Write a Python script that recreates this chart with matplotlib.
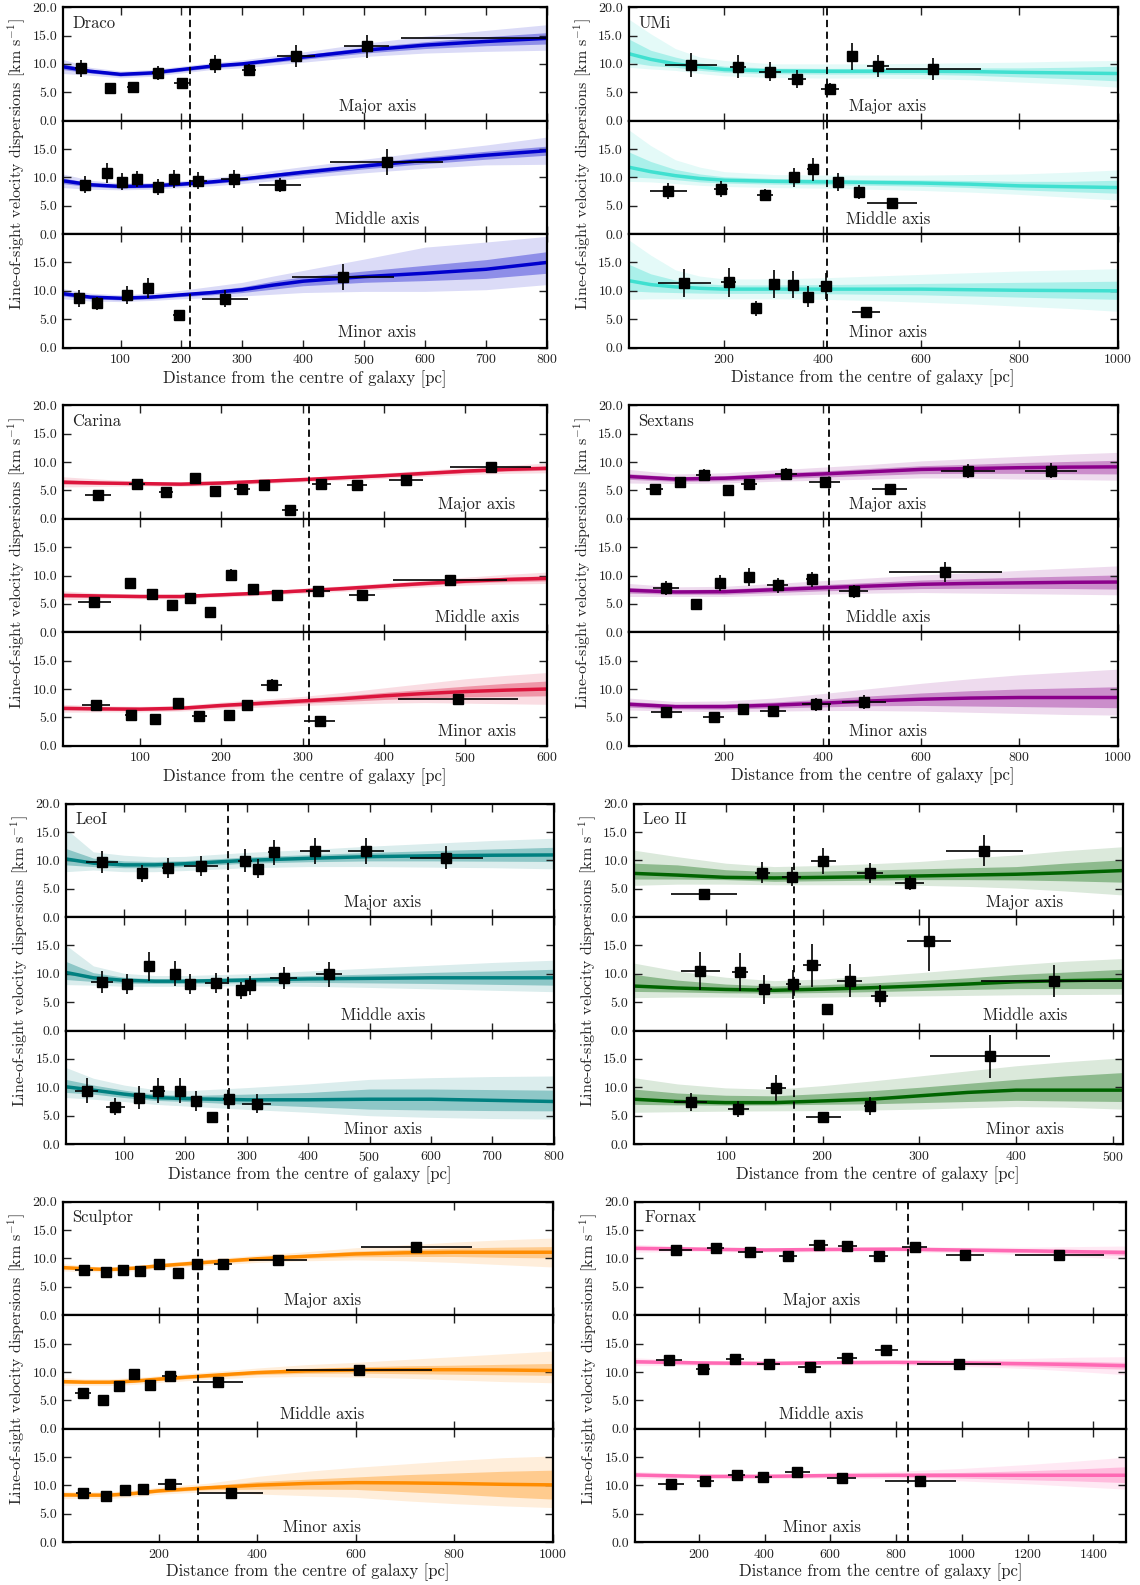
import matplotlib
matplotlib.use('Agg')
import matplotlib.pyplot as plt
from matplotlib.ticker import FormatStrFormatter

plt.rcParams['font.family'] = 'serif'
plt.rcParams['font.serif'] = ['cmr10']
plt.rcParams['mathtext.fontset'] = 'cm'
plt.rcParams['axes.formatter.use_mathtext'] = True
plt.rcParams['axes.unicode_minus'] = False

# ---- measured dispersions: (R [pc], sigma, xerr, yerr) ----
draco_major = [(35, 9.2, 10, 1.5), (82, 5.7, 5, 0.7), (121, 6.0, 10, 0.6), (161, 8.4, 9, 1.3),
               (201, 6.7, 13, 0.7), (255, 10.0, 10, 1.6), (311, 8.9, 11, 1.1), (388, 11.4, 31, 1.9),
               (504, 13.1, 37, 2.0), (840, 14.5, 280, 2.0)]
draco_middle = [(41, 8.7, 7, 1.5), (78, 10.8, 5, 1.8), (103, 9.2, 9, 1.5), (127, 9.7, 8, 1.4),
                (162, 8.3, 7, 1.4), (188, 9.7, 6, 1.6), (227, 9.4, 15, 1.5), (287, 9.7, 22, 1.6),
                (362, 8.7, 35, 1.2), (537, 12.7, 93, 2.3)]
draco_minor = [(32, 8.7, 7, 1.5), (62, 7.8, 9, 1.2), (110, 9.3, 8, 1.6), (145, 10.5, 7, 1.8),
               (196, 5.7, 10, 0.7), (271, 8.6, 38, 1.5), (465, 12.5, 84, 2.3)]

umi_major = [(132, 9.8, 53, 2.1), (227, 9.5, 16, 2.0), (293, 8.6, 22, 1.7), (348, 7.3, 18, 1.6),
             (415, 5.6, 18, 1.0), (459, 11.3, 5, 2.4), (513, 9.6, 22, 2.0), (625, 9.1, 97, 1.9)]
umi_middle = [(86, 7.6, 37, 1.4), (193, 7.9, 15, 1.4), (282, 6.9, 16, 1.1), (342, 10.0, 7, 1.7),
              (380, 11.4, 13, 2.1), (431, 9.2, 10, 1.6), (474, 7.4, 11, 1.3), (541, 5.4, 51, 0.9)]
umi_minor = [(118, 11.4, 54, 2.5), (209, 11.5, 15, 2.5), (264, 6.9, 7, 1.3), (301, 11.2, 9, 2.4),
             (339, 11.1, 9, 2.4), (371, 9.0, 5, 1.9), (406, 10.8, 13, 2.3), (488, 6.2, 29, 1.0)]

carina_major = [(48, 4.2, 16, 0.5), (96, 6.2, 10, 0.6), (132, 4.8, 9, 0.5), (168, 7.2, 4, 0.6),
                (192, 4.9, 4, 0.5), (225, 5.3, 10, 0.5), (253, 5.9, 7, 0.6), (284, 1.6, 10, 0.4),
                (323, 6.2, 12, 0.6), (367, 5.9, 12, 0.5), (427, 6.8, 21, 0.6), (531, 9.1, 50, 0.8)]
carina_middle = [(44, 5.3, 20, 0.5), (88, 8.7, 3, 0.9), (115, 6.7, 5, 0.7), (139, 4.8, 4, 0.5),
                 (162, 6.0, 4, 0.6), (186, 3.5, 4, 0.4), (212, 10.1, 3, 1.0), (239, 7.7, 5, 0.8),
                 (268, 6.6, 5, 0.6), (319, 7.3, 15, 0.6), (373, 6.6, 16, 0.6), (481, 9.2, 70, 0.9)]
carina_minor = [(46, 7.2, 17, 0.7), (89, 5.5, 7, 0.5), (118, 4.7, 5, 0.5), (147, 7.6, 6, 0.8),
                (173, 5.2, 9, 0.5), (210, 5.4, 4, 0.5), (232, 7.2, 6, 0.8), (262, 10.7, 13, 1.0),
                (321, 4.4, 19, 0.4), (491, 8.3, 74, 0.9)]

sextans_major = [(58, 5.3, 18, 0.6), (110, 6.5, 9, 0.8), (158, 7.7, 15, 1.0), (208, 5.0, 9, 0.5),
                 (250, 6.2, 16, 0.8), (325, 7.9, 22, 1.0), (404, 6.4, 31, 0.9), (536, 5.2, 35, 0.6),
                 (695, 8.4, 55, 1.3), (865, 8.5, 53, 1.3)]
sextans_middle = [(81, 7.8, 27, 1.2), (143, 4.9, 12, 0.5), (190, 8.7, 9, 1.4), (250, 9.8, 7, 1.6),
                  (308, 8.3, 22, 1.3), (378, 9.3, 13, 1.4), (463, 7.2, 29, 1.2), (649, 10.6, 115, 1.8)]
sextans_minor = [(82, 6.0, 31, 0.9), (178, 5.0, 22, 0.5), (238, 6.4, 9, 0.9), (299, 6.1, 26, 0.8),
                 (387, 7.3, 30, 1.1), (484, 7.7, 45, 1.2)]

leoi_major = [(64, 9.7, 26, 2.0), (130, 7.7, 6, 1.5), (171, 8.7, 9, 1.8), (225, 9.0, 28, 1.8),
              (297, 9.95, 11, 2.0), (319, 8.5, 7, 1.7), (344, 11.4, 9, 2.2), (411, 11.7, 25, 2.3),
              (494, 11.65, 30, 2.3), (625, 10.5, 60, 2.1)]
leoi_middle = [(64, 8.6, 18, 1.9), (105, 8.2, 9, 1.7), (141, 11.3, 3, 2.5), (183, 10.0, 6, 2.2),
               (207, 8.2, 7, 1.7), (250, 8.4, 18, 1.8), (290, 7.1, 5, 1.5), (306, 8.0, 7, 1.7),
               (360, 9.25, 22, 2.0), (434, 9.95, 21, 2.2)]
leoi_minor = [(39, 9.4, 19, 2.2), (86, 6.55, 15, 1.5), (124, 8.2, 5, 2.0), (155, 9.4, 12, 2.2),
              (192, 9.4, 7, 2.2), (217, 7.6, 7, 1.8), (244, 4.7, 3, 1.0), (271, 8.0, 9, 1.9),
              (316, 7.1, 24, 1.7)]

leoii_major = [(78, 4.0, 34, 0.5), (138, 7.85, 8, 1.8), (168, 7.1, 10, 1.7), (201, 9.95, 13, 2.3),
               (249, 7.8, 13, 1.8), (290, 6.0, 15, 1.3), (367, 11.7, 40, 2.7)]
leoii_middle = [(74, 10.5, 20, 3.4), (115, 10.3, 8, 3.3), (140, 7.25, 8, 2.5), (170, 8.15, 8, 2.5),
                (189, 11.5, 9, 3.8), (205, 3.8, 2, 0.6), (228, 8.8, 13, 2.9), (259, 6.1, 9, 1.9),
                (310, 15.7, 23, 5.2), (439, 8.7, 75, 2.8)]
leoii_minor = [(64, 7.4, 17, 1.6), (113, 6.15, 11, 1.4), (152, 9.95, 10, 2.3), (201, 4.7, 18, 1.0),
               (249, 6.7, 6, 1.6), (373, 15.45, 62, 3.8)]

sculptor_major = [(48, 8.05, 18, 0.5), (93, 7.7, 9, 0.5), (127, 8.05, 9, 0.5), (162, 7.8, 11, 0.5),
                  (200, 9.1, 7, 0.5), (239, 7.5, 9, 0.4), (278, 9.05, 11, 0.5), (331, 9.1, 18, 0.5),
                  (443, 9.8, 59, 0.6), (723, 12.05, 112, 0.9)]
sculptor_middle = [(46, 6.35, 16, 0.5), (86, 5.1, 3, 0.4), (120, 7.6, 9, 0.5), (150, 9.7, 4, 0.6),
                   (182, 7.7, 9, 0.5), (222, 9.35, 15, 0.6), (321, 8.2, 51, 0.5), (607, 10.35, 148, 0.7)]
sculptor_minor = [(47, 8.75, 15, 0.6), (93, 8.1, 11, 0.5), (131, 9.2, 9, 0.6), (169, 9.35, 11, 0.7),
                  (223, 10.25, 24, 0.7), (346, 8.75, 65, 0.7)]

fornax_major = [(129, 11.5, 50, 0.5), (251, 11.85, 25, 0.5), (357, 11.1, 39, 0.5), (471, 10.5, 28, 0.4),
                (564, 12.3, 28, 0.5), (652, 12.15, 28, 0.5), (747, 10.5, 28, 0.4), (856, 12.0, 39, 0.5),
                (1009, 10.65, 57, 0.4), (1297, 10.65, 135, 0.4)]
fornax_middle = [(110, 12.05, 39, 0.5), (212, 10.6, 22, 0.4), (310, 12.3, 28, 0.5), (412, 11.45, 35, 0.5),
                 (538, 10.8, 35, 0.4), (651, 12.45, 30, 0.5), (770, 13.8, 35, 0.6), (991, 11.45, 128, 0.5)]
fornax_minor = [(115, 10.25, 39, 0.4), (220, 10.75, 25, 0.5), (315, 11.85, 25, 0.5), (396, 11.45, 25, 0.5),
                (500, 12.3, 39, 0.6), (635, 11.35, 44, 0.5), (874, 10.7, 108, 0.5)]

# ---- model curves: radius grid and (lo95, lo68, median, hi68, hi95) ----
draco_r = [5, 50, 100, 150, 200, 250, 300, 350, 400, 500, 600, 700, 800]
draco_fit_major = [(8.3, 9.0, 9.5, 10.0, 10.8), (8.0, 8.4, 8.7, 9.0, 9.4), (7.55, 7.85, 8.15, 8.45, 8.75),
                   (7.8, 8.1, 8.4, 8.7, 9.0), (8.4, 8.7, 9.0, 9.3, 9.6), (9.0, 9.3, 9.6, 9.9, 10.2),
                   (9.3, 9.7, 10.0, 10.3, 10.7), (9.8, 10.25, 10.6, 10.95, 11.4), (10.3, 10.8, 11.2, 11.6, 12.1),
                   (11.3, 11.9, 12.4, 12.9, 13.6), (11.9, 12.7, 13.3, 13.9, 14.9), (12.2, 13.2, 13.95, 14.8, 15.9),
                   (12.4, 13.5, 14.5, 15.5, 16.9)]
draco_fit_middle = [(8.2, 8.9, 9.4, 9.9, 10.6), (7.9, 8.35, 8.7, 9.05, 9.5), (7.8, 8.1, 8.4, 8.7, 9.0),
                    (7.9, 8.2, 8.5, 8.8, 9.1), (8.2, 8.5, 8.8, 9.1, 9.4), (8.5, 8.9, 9.2, 9.5, 9.9),
                    (8.9, 9.35, 9.7, 10.05, 10.5), (9.4, 9.9, 10.3, 10.7, 11.2), (9.9, 10.45, 10.9, 11.35, 11.9),
                    (10.8, 11.5, 12.0, 12.5, 13.2), (11.6, 12.4, 13.0, 13.6, 14.5), (12.2, 13.2, 13.9, 14.6, 15.7),
                    (12.3, 13.9, 14.7, 15.5, 17.1)]
draco_fit_minor = [(8.6, 9.1, 9.5, 9.9, 10.4), (8.2, 8.6, 8.9, 9.2, 9.6), (8.1, 8.4, 8.7, 9.0, 9.3),
                   (8.3, 8.6, 8.9, 9.2, 9.6), (8.6, 9.0, 9.3, 9.6, 10.1), (8.8, 9.3, 9.7, 10.1, 10.8),
                   (9.1, 9.7, 10.2, 10.7, 11.5), (9.4, 10.3, 11.0, 11.7, 12.6), (9.7, 10.9, 11.7, 12.5, 13.6),
                   (9.9, 11.5, 12.5, 13.5, 15.6), (9.9, 11.8, 13.1, 14.5, 17.7), (10.2, 12.2, 13.8, 15.5, 18.6),
                   (11.1, 13.1, 15.0, 16.9, 19.6)]

umi_r = [5, 50, 100, 150, 200, 300, 400, 500, 600, 700, 800, 900, 1000]
umi_fit_major = [(9.4, 10.3, 11.8, 14.4, 17.9), (9.1, 9.7, 10.8, 12.4, 15.3), (8.85, 9.4, 10.0, 11.2, 12.7),
                 (8.3, 8.85, 9.45, 10.2, 11.2), (7.9, 8.5, 9.0, 9.6, 10.6), (7.6, 8.25, 8.75, 9.25, 10.0),
                 (7.5, 8.2, 8.7, 9.2, 10.0), (7.5, 8.2, 8.7, 9.2, 10.0), (7.4, 8.15, 8.7, 9.25, 10.1),
                 (7.2, 8.0, 8.65, 9.3, 10.2), (6.8, 7.7, 8.5, 9.3, 10.3), (6.4, 7.4, 8.4, 9.4, 10.5),
                 (5.9, 7.0, 8.3, 9.6, 10.6)]
umi_fit_middle = [(9.3, 10.1, 11.8, 14.5, 18.4), (9.2, 9.9, 11.0, 12.8, 15.6), (8.9, 9.6, 10.3, 11.4, 13.1),
                  (8.6, 9.2, 9.8, 10.6, 11.8), (8.4, 9.0, 9.5, 10.1, 11.0), (8.2, 8.8, 9.3, 9.8, 10.5),
                  (8.1, 8.7, 9.2, 9.7, 10.4), (7.9, 8.6, 9.1, 9.6, 10.4), (7.7, 8.45, 9.0, 9.55, 10.4),
                  (7.4, 8.2, 8.8, 9.45, 10.5), (7.0, 7.8, 8.5, 9.3, 10.6), (6.5, 7.5, 8.35, 9.3, 10.9),
                  (6.0, 7.2, 8.2, 9.5, 11.3)]
umi_fit_minor = [(8.5, 10.0, 11.8, 14.7, 19.0), (8.6, 9.8, 11.1, 13.0, 16.3), (8.6, 9.7, 10.7, 11.9, 13.7),
                 (8.6, 9.6, 10.45, 11.3, 12.6), (8.6, 9.55, 10.3, 11.05, 12.1), (8.6, 9.55, 10.3, 11.05, 12.1),
                 (8.5, 9.5, 10.3, 11.1, 12.3), (8.3, 9.4, 10.3, 11.2, 12.6), (8.0, 9.3, 10.3, 11.3, 12.9),
                 (7.7, 9.1, 10.2, 11.4, 13.2), (7.3, 8.9, 10.1, 11.5, 13.5), (6.9, 8.7, 10.05, 11.6, 13.7),
                 (6.4, 8.5, 10.0, 11.7, 13.9)]

carina_r = [5, 50, 100, 150, 200, 250, 300, 350, 400, 450, 500, 550, 600]
carina_fit_major = [(5.6, 6.1, 6.45, 6.85, 7.4), (5.7, 6.05, 6.3, 6.6, 7.0), (5.8, 6.0, 6.2, 6.4, 6.6),
                    (5.7, 5.9, 6.1, 6.3, 6.5), (5.9, 6.1, 6.3, 6.5, 6.7), (6.2, 6.4, 6.6, 6.8, 7.0),
                    (6.5, 6.7, 6.9, 7.1, 7.3), (6.8, 7.05, 7.25, 7.45, 7.7), (7.1, 7.4, 7.6, 7.8, 8.1),
                    (7.45, 7.75, 8.0, 8.25, 8.55), (7.8, 8.1, 8.4, 8.7, 9.0), (8.0, 8.4, 8.7, 9.0, 9.4),
                    (8.1, 8.55, 8.9, 9.25, 9.8)]
carina_fit_middle = [(5.7, 6.15, 6.5, 6.85, 7.3), (5.9, 6.15, 6.4, 6.65, 6.9), (5.9, 6.1, 6.3, 6.5, 6.7),
                     (5.9, 6.1, 6.3, 6.5, 6.7), (6.2, 6.4, 6.6, 6.8, 7.0), (6.5, 6.7, 6.9, 7.1, 7.3),
                     (6.85, 7.1, 7.3, 7.5, 7.75), (7.2, 7.45, 7.7, 7.95, 8.2), (7.6, 7.9, 8.15, 8.4, 8.7),
                     (8.0, 8.3, 8.6, 8.9, 9.2), (8.3, 8.7, 9.0, 9.3, 9.7), (8.5, 8.9, 9.3, 9.7, 10.2),
                     (8.6, 9.05, 9.5, 9.95, 10.6)]
carina_fit_minor = [(5.9, 6.3, 6.6, 6.9, 7.3), (5.95, 6.25, 6.5, 6.75, 7.05), (5.95, 6.2, 6.45, 6.7, 6.95),
                    (6.1, 6.35, 6.6, 6.85, 7.1), (6.5, 6.8, 7.1, 7.4, 7.7), (6.8, 7.15, 7.5, 7.85, 8.2),
                    (7.1, 7.5, 7.9, 8.3, 8.7), (7.3, 7.8, 8.3, 8.8, 9.4), (7.5, 8.15, 8.8, 9.4, 10.2),
                    (7.6, 8.4, 9.2, 9.95, 11.0), (7.5, 8.6, 9.55, 10.5, 11.8), (7.4, 8.7, 9.8, 11.0, 12.4),
                    (7.3, 8.8, 10.0, 11.4, 12.9)]

sextans_r = [5, 100, 200, 300, 400, 500, 600, 700, 800, 900, 1000]
sextans_fit_major = [(6.3, 6.95, 7.45, 7.95, 8.7), (6.2, 6.6, 7.0, 7.4, 7.9), (6.3, 6.7, 7.15, 7.6, 8.1),
                     (6.6, 7.05, 7.55, 8.05, 8.6), (6.8, 7.35, 7.9, 8.45, 9.1), (7.0, 7.65, 8.3, 8.9, 9.6),
                     (7.2, 7.95, 8.7, 9.35, 10.2), (7.15, 8.0, 8.85, 9.6, 10.6), (7.0, 8.0, 9.0, 9.9, 11.0),
                     (6.9, 7.95, 9.1, 10.1, 11.4), (6.8, 7.9, 9.15, 10.3, 11.7)]
sextans_fit_middle = [(6.3, 6.9, 7.4, 7.9, 8.6), (6.3, 6.7, 7.1, 7.5, 8.0), (6.3, 6.7, 7.15, 7.6, 8.1),
                      (6.5, 7.0, 7.5, 8.0, 8.6), (6.7, 7.3, 7.85, 8.4, 9.1), (6.9, 7.5, 8.15, 8.8, 9.6),
                      (7.0, 7.7, 8.45, 9.2, 10.1), (6.9, 7.75, 8.6, 9.45, 10.5), (6.8, 7.75, 8.7, 9.7, 10.9),
                      (6.7, 7.7, 8.8, 9.9, 11.3), (6.6, 7.6, 8.85, 10.1, 11.7)]
sextans_fit_minor = [(6.3, 6.8, 7.3, 7.8, 8.4), (6.1, 6.5, 6.9, 7.3, 7.8), (6.0, 6.45, 6.9, 7.35, 7.9),
                     (6.1, 6.65, 7.15, 7.7, 8.4), (6.2, 6.85, 7.5, 8.2, 9.2), (6.2, 7.05, 7.9, 8.8, 10.1),
                     (6.1, 7.1, 8.2, 9.3, 11.0), (5.9, 7.0, 8.4, 9.7, 11.8), (5.7, 6.9, 8.5, 10.0, 12.5),
                     (5.5, 6.8, 8.5, 10.2, 13.0), (5.4, 6.7, 8.5, 10.4, 13.5)]

leoi_r = [5, 50, 100, 150, 200, 300, 400, 500, 600, 700, 800]
leoi_fit_major = [(8.0, 9.2, 10.25, 12.1, 15.6), (8.3, 8.9, 9.5, 10.4, 11.5), (8.0, 8.7, 9.2, 9.9, 10.9),
                  (8.0, 8.7, 9.2, 9.8, 10.6), (8.2, 8.9, 9.4, 9.95, 10.7), (8.7, 9.5, 10.0, 10.6, 11.4),
                  (8.9, 9.75, 10.35, 11.0, 11.9), (8.9, 9.9, 10.65, 11.4, 12.5), (8.8, 9.9, 10.8, 11.7, 13.0),
                  (8.7, 9.85, 10.9, 12.0, 13.5), (8.5, 9.8, 10.95, 12.3, 13.9)]
leoi_fit_middle = [(8.1, 9.0, 10.25, 12.2, 15.1), (8.0, 8.65, 9.3, 10.2, 11.4), (7.8, 8.35, 8.85, 9.4, 10.1),
                   (7.8, 8.3, 8.7, 9.1, 9.7), (7.8, 8.3, 8.7, 9.1, 9.7), (7.9, 8.45, 8.9, 9.35, 10.0),
                   (7.8, 8.5, 9.1, 9.7, 10.5), (7.6, 8.4, 9.2, 9.95, 11.0), (7.35, 8.3, 9.3, 10.25, 11.5),
                   (7.1, 8.15, 9.3, 10.5, 12.0), (6.85, 8.0, 9.3, 10.8, 12.4)]
leoi_fit_minor = [(8.2, 9.1, 10.1, 11.4, 13.5), (7.9, 8.8, 9.5, 10.4, 11.6), (7.5, 8.2, 8.8, 9.5, 10.4),
                  (7.0, 7.7, 8.2, 8.8, 9.6), (6.7, 7.5, 8.0, 8.55, 9.4), (6.1, 7.0, 7.8, 8.8, 9.95),
                  (5.6, 6.6, 7.8, 9.1, 10.6), (5.0, 6.15, 7.9, 9.7, 11.4), (4.7, 6.0, 7.9, 9.7, 11.7),
                  (4.5, 5.9, 7.7, 9.6, 11.9), (4.4, 5.85, 7.5, 9.5, 12.0)]

leoii_r = [5, 50, 100, 150, 200, 250, 300, 350, 400, 450, 510]
leoii_fit_major = [(5.6, 6.7, 7.7, 9.5, 11.8), (5.8, 6.7, 7.4, 9.2, 10.65), (5.8, 6.6, 7.0, 8.35, 9.5),
                   (5.7, 6.3, 6.9, 8.0, 8.9), (5.7, 6.4, 7.0, 8.1, 9.1), (5.7, 6.5, 7.1, 8.3, 9.4),
                   (5.6, 6.6, 7.25, 8.5, 9.8), (5.4, 6.6, 7.4, 8.7, 10.4), (5.1, 6.55, 7.55, 8.9, 10.95),
                   (4.6, 6.4, 7.8, 9.5, 11.7), (3.9, 6.15, 8.2, 10.1, 12.4)]
leoii_fit_middle = [(5.8, 6.9, 7.85, 9.9, 11.9), (5.9, 6.8, 7.5, 8.9, 10.5), (5.9, 6.65, 7.25, 8.2, 9.4),
                    (5.8, 6.6, 7.1, 7.85, 8.8), (5.9, 6.7, 7.3, 8.1, 9.1), (6.0, 6.85, 7.55, 8.4, 9.6),
                    (6.1, 7.05, 7.85, 8.8, 10.2), (6.2, 7.25, 8.2, 9.3, 10.9), (6.3, 7.4, 8.6, 9.9, 11.6),
                    (6.35, 7.4, 8.8, 10.3, 12.2), (6.4, 7.4, 8.95, 10.8, 12.7)]
leoii_fit_minor = [(5.6, 7.0, 7.9, 9.7, 11.7), (5.7, 6.9, 7.5, 9.0, 10.6), (5.8, 6.85, 7.3, 8.6, 9.9),
                   (5.85, 6.9, 7.3, 8.5, 9.65), (5.9, 7.0, 7.6, 8.9, 10.3), (6.0, 7.1, 7.9, 9.4, 11.1),
                   (6.15, 7.3, 8.5, 10.0, 12.0), (6.4, 7.5, 9.1, 10.7, 12.9), (6.6, 7.7, 9.5, 11.4, 13.8),
                   (6.5, 7.6, 9.5, 12.0, 14.5), (6.15, 7.5, 9.5, 12.6, 15.2)]

sculptor_r = [5, 50, 100, 150, 200, 300, 400, 500, 600, 700, 800, 900, 1000]
sculptor_fit_major = [(7.8, 8.15, 8.4, 8.65, 9.1), (7.7, 8.0, 8.2, 8.4, 8.7), (7.6, 7.85, 8.05, 8.25, 8.5),
                      (7.85, 8.1, 8.3, 8.5, 8.75), (8.25, 8.5, 8.7, 8.9, 9.15), (8.8, 9.1, 9.35, 9.6, 9.9),
                      (9.3, 9.65, 9.95, 10.25, 10.6), (9.6, 10.05, 10.4, 10.75, 11.2), (9.75, 10.3, 10.8, 11.3, 11.9),
                      (9.6, 10.35, 11.0, 11.6, 12.4), (9.3, 10.35, 11.1, 11.85, 12.9), (8.9, 10.2, 11.1, 12.0, 13.3),
                      (8.5, 10.1, 11.1, 12.1, 13.6)]
sculptor_fit_middle = [(7.6, 8.0, 8.3, 8.6, 9.0), (7.6, 7.95, 8.2, 8.45, 8.8), (7.6, 7.95, 8.2, 8.45, 8.8),
                       (7.8, 8.15, 8.4, 8.65, 9.0), (8.15, 8.5, 8.75, 9.0, 9.35), (8.7, 9.05, 9.35, 9.65, 10.0),
                       (9.1, 9.55, 9.9, 10.25, 10.7), (9.2, 9.75, 10.2, 10.65, 11.3), (9.1, 9.8, 10.35, 10.9, 11.7),
                       (8.9, 9.7, 10.4, 11.1, 12.2), (8.6, 9.6, 10.4, 11.2, 12.7), (8.3, 9.5, 10.35, 11.35, 13.2),
                       (8.1, 9.4, 10.25, 11.5, 13.7)]
sculptor_fit_minor = [(7.7, 8.05, 8.35, 8.65, 9.0), (7.7, 8.05, 8.3, 8.55, 8.9), (7.7, 8.05, 8.3, 8.55, 8.9),
                      (8.0, 8.35, 8.6, 8.85, 9.2), (8.45, 8.8, 9.05, 9.3, 9.7), (8.9, 9.25, 9.6, 9.95, 10.4),
                      (8.5, 9.35, 10.05, 10.7, 11.6), (8.2, 9.35, 10.35, 11.1, 12.5), (7.9, 9.3, 10.5, 11.5, 13.2),
                      (7.3, 8.9, 10.45, 11.9, 13.8), (6.8, 8.5, 10.35, 12.2, 14.4), (6.4, 8.0, 10.2, 12.5, 14.9),
                      (6.1, 7.6, 10.1, 12.7, 15.2)]

fornax_r = [5, 200, 400, 600, 800, 1000, 1200, 1350, 1500]
fornax_fit_major = [(11.1, 11.5, 11.8, 12.1, 12.5), (11.25, 11.45, 11.65, 11.85, 12.05), (11.1, 11.3, 11.5, 11.7, 11.9),
                    (11.2, 11.4, 11.6, 11.8, 12.0), (11.2, 11.45, 11.65, 11.85, 12.1), (11.0, 11.25, 11.5, 11.75, 12.0),
                    (10.7, 11.05, 11.35, 11.65, 12.0), (10.3, 10.8, 11.2, 11.6, 12.1), (9.9, 10.55, 11.05, 11.55, 12.2)]
fornax_fit_middle = [(11.1, 11.5, 11.8, 12.1, 12.5), (11.2, 11.4, 11.6, 11.8, 12.0), (11.1, 11.3, 11.5, 11.7, 11.9),
                     (11.25, 11.45, 11.65, 11.85, 12.05), (11.25, 11.5, 11.7, 11.9, 12.15), (11.0, 11.3, 11.6, 11.9, 12.2),
                     (10.6, 11.0, 11.45, 11.9, 12.4), (10.1, 10.7, 11.3, 11.9, 12.6), (9.5, 10.5, 11.1, 11.7, 12.7)]
fornax_fit_minor = [(11.2, 11.55, 11.85, 12.15, 12.5), (11.2, 11.4, 11.6, 11.8, 12.0), (11.2, 11.4, 11.6, 11.8, 12.0),
                    (11.3, 11.55, 11.75, 11.95, 12.25), (11.2, 11.5, 11.8, 12.1, 12.5), (10.8, 11.3, 11.8, 12.3, 13.0),
                    (10.3, 11.0, 11.8, 12.6, 13.7), (9.8, 10.8, 11.8, 12.9, 14.3), (9.35, 10.5, 11.8, 13.3, 15.0)]

# half-light (dashed line) radii [pc]
r_half = {'Draco': 214, 'UMi': 408, 'Carina': 308, 'Sextans': 412,
          'LeoI': 270, 'Leo II': 171, 'Sculptor': 279, 'Fornax': 837}

axis_names = ['Major axis', 'Middle axis', 'Minor axis']

# name, grid, fits, points, xmax, xticks, colour, label x, panel box (left, bottom, width)
panels = [
    ('Draco', draco_r, [draco_fit_major, draco_fit_middle, draco_fit_minor],
     [draco_major, draco_middle, draco_minor], 800, range(100, 801, 100), 'mediumblue', 0.65,
     (0.0550, 0.7807, 0.4246)),
    ('UMi', umi_r, [umi_fit_major, umi_fit_middle, umi_fit_minor],
     [umi_major, umi_middle, umi_minor], 1000, range(200, 1001, 200), 'turquoise', 0.53,
     (0.5514, 0.7807, 0.4290)),
    ('Carina', carina_r, [carina_fit_major, carina_fit_middle, carina_fit_minor],
     [carina_major, carina_middle, carina_minor], 600, range(100, 601, 100), 'crimson', 0.856,
     (0.0550, 0.5295, 0.4246)),
    ('Sextans', sextans_r, [sextans_fit_major, sextans_fit_middle, sextans_fit_minor],
     [sextans_major, sextans_middle, sextans_minor], 1000, range(200, 1001, 200), 'darkmagenta', 0.53,
     (0.5514, 0.5295, 0.4290)),
    ('LeoI', leoi_r, [leoi_fit_major, leoi_fit_middle, leoi_fit_minor],
     [leoi_major, leoi_middle, leoi_minor], 800, range(100, 801, 100), 'teal', 0.65,
     (0.0576, 0.2782, 0.4282)),
    ('Leo II', leoii_r, [leoii_fit_major, leoii_fit_middle, leoii_fit_minor],
     [leoii_major, leoii_middle, leoii_minor], 510, range(100, 501, 100), 'darkgreen', 0.80,
     (0.5558, 0.2782, 0.4291)),
    ('Sculptor', sculptor_r, [sculptor_fit_major, sculptor_fit_middle, sculptor_fit_minor],
     [sculptor_major, sculptor_middle, sculptor_minor], 1000, range(200, 1001, 200), 'darkorange', 0.53,
     (0.0550, 0.0270, 0.4299)),
    ('Fornax', fornax_r, [fornax_fit_major, fornax_fit_middle, fornax_fit_minor],
     [fornax_major, fornax_middle, fornax_minor], 1500, range(200, 1401, 200), 'hotpink', 0.38,
     (0.5568, 0.0270, 0.4311)),
]

H = 0.2148
h3 = H / 3

fig = plt.figure(figsize=(11.4, 15.85), dpi=100)

for name, r, fits, pts, xmax, xticks, col, lx, (left, bottom, width) in panels:
    for k in range(3):
        ax = fig.add_axes([left, bottom + (2 - k) * h3, width, h3])
        fit = list(zip(*fits[k]))
        ax.fill_between(r, fit[0], fit[4], color=col, alpha=0.14, lw=0)
        ax.fill_between(r, fit[1], fit[3], color=col, alpha=0.35, lw=0)
        ax.plot(r, fit[2], color=col, lw=2.5)

        x, y, xe, ye = zip(*pts[k])
        ax.errorbar(x, y, xerr=xe, yerr=ye, fmt='s', color='k', ms=6.5,
                    elinewidth=1.2, capsize=0, zorder=5)
        ax.axvline(r_half[name], color='k', ls=(0, (4, 2.5)), lw=1.3)

        ax.set_xlim(5, xmax)
        ax.set_ylim(0, 20)
        ax.set_xticks(list(xticks))
        ax.set_yticks([0, 5, 10, 15, 20] if k == 0 else [0, 5, 10, 15])
        ax.yaxis.set_major_formatter(FormatStrFormatter('%.1f'))
        ax.tick_params(direction='in', top=True, right=True, length=6, width=1,
                       labelsize=10, pad=4, labelbottom=(k == 2), colors='#222222')
        for s in ax.spines.values():
            s.set_linewidth(1.6)

        ax.text(lx, 0.13, axis_names[k], transform=ax.transAxes, ha='center',
                va='center', fontsize=12, color='#222222')
        if k == 0:
            ax.text(0.02, 0.86, name, transform=ax.transAxes, ha='left',
                    va='center', fontsize=12, color='#222222')
        if k == 2:
            ax.set_xlabel('Distance from the centre of galaxy [pc]', fontsize=12,
                          labelpad=2, color='#222222')

    fig.text(left - 0.04, bottom + H / 2 + 0.008,
             'Line-of-sight velocity dispersions [km s$^{-1}$]',
             rotation=90, ha='center', va='center', fontsize=11.5, color='#222222')

fig.savefig('out.png', dpi=100)
